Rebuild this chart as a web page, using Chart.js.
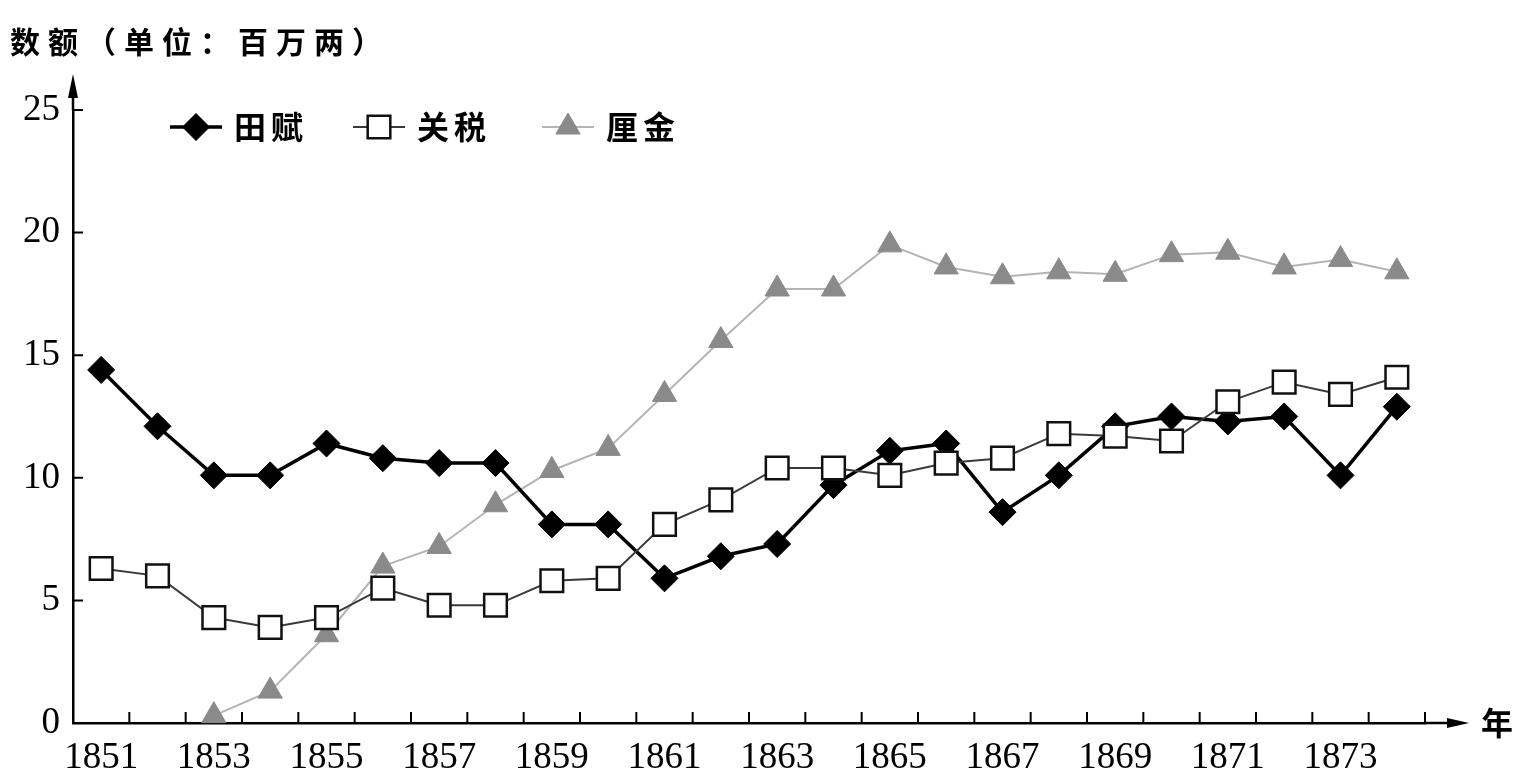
<!DOCTYPE html>
<html>
<head>
<meta charset="utf-8">
<script src="https://cdn.jsdelivr.net/npm/chart.js@4.4.0/dist/chart.umd.min.js"></script>
<style>
  html, body { margin: 0; padding: 0; background: #fff; }
  #wrap { width: 1516px; height: 778px; }
</style>
</head>
<body>
<div id="wrap"><canvas id="canvas" width="1516" height="778"></canvas></div>
<script>
const years = ['1851','1852','1853','1854','1855','1856','1857','1858','1859','1860','1861','1862',
               '1863','1864','1865','1866','1867','1868','1869','1870','1871','1872','1873','1874'];
// 田赋
const tianfu = [14.4, 12.1, 10.1, 10.1, 11.4, 10.8, 10.6, 10.6, 8.1, 8.1, 5.9, 6.8,
                7.3, 9.7, 11.1, 11.4, 8.6, 10.1, 12.1, 12.5, 12.3, 12.5, 10.1, 12.9];
// 关税
const guanshui = [6.3, 6.0, 4.3, 3.9, 4.3, 5.5, 4.8, 4.8, 5.8, 5.9, 8.1, 9.1,
                  10.4, 10.4, 10.1, 10.6, 10.8, 11.8, 11.7, 11.5, 13.1, 13.9, 13.4, 14.1];
// 厘金 (starts in 1853)
const lijin = [null, null, 0.3, 1.3, 3.6, 6.4, 7.2, 8.9, 10.3, 11.2, 13.4, 15.6,
               17.7, 17.7, 19.5, 18.6, 18.2, 18.4, 18.3, 19.1, 19.2, 18.6, 18.9, 18.4];
const yTicks = [0, 5, 10, 15, 20, 25];

const serif = '"Liberation Serif", "Times New Roman", serif';
const cjk = '"Noto Sans CJK SC", sans-serif';

// axis arrows, inward tick marks, title, unit label and legend
const decorations = {
  id: 'decorations',
  afterDraw(chart) {
    const {ctx, chartArea: a, scales: {x, y}} = chart;
    ctx.save();
    ctx.strokeStyle = '#000';
    ctx.fillStyle = '#000';
    ctx.lineWidth = 2.5;

    // y axis up to arrow
    ctx.beginPath();
    ctx.moveTo(a.left, a.top);
    ctx.lineTo(a.left, 92);
    ctx.stroke();
    ctx.beginPath();
    ctx.moveTo(a.left, 74);
    ctx.lineTo(a.left - 5, 98);
    ctx.lineTo(a.left + 5, 98);
    ctx.closePath();
    ctx.fill();

    // x axis out to arrow
    ctx.beginPath();
    ctx.moveTo(a.right, a.bottom);
    ctx.lineTo(1452, a.bottom);
    ctx.stroke();
    ctx.beginPath();
    ctx.moveTo(1469, a.bottom);
    ctx.lineTo(1447, a.bottom - 5);
    ctx.lineTo(1447, a.bottom + 5);
    ctx.closePath();
    ctx.fill();

    // tick marks pointing inward
    ctx.lineWidth = 2;
    ctx.beginPath();
    yTicks.forEach(v => {
      const py = y.getPixelForValue(v);
      ctx.moveTo(a.left, py);
      ctx.lineTo(a.left + 10, py);
    });
    for (let i = 1; i <= years.length; i++) {
      const px = x.getPixelForValue(i - 0.5);
      ctx.moveTo(px, a.bottom);
      ctx.lineTo(px, a.bottom - 11);
    }
    ctx.stroke();

    // texts
    ctx.textBaseline = 'middle';
    ctx.font = 'bold 30px ' + cjk;
    ctx.letterSpacing = '8px';
    ctx.textAlign = 'left';
    ctx.fillText('数额（单位：百万两）', 10, 42);
    ctx.letterSpacing = '0px';
    ctx.font = 'bold 32px ' + cjk;
    ctx.fillText('年', 1481, a.bottom);

    // legend
    const starts = [170, 353, 542];
    const ly = 127;
    chart.data.datasets.forEach((ds, i) => {
      const x0 = starts[i];
      ctx.strokeStyle = ds.borderColor;
      ctx.lineWidth = ds.borderWidth;
      ctx.beginPath();
      ctx.moveTo(x0, ly);
      ctx.lineTo(x0 + 52, ly);
      ctx.stroke();
      ctx.fillStyle = ds.pointBackgroundColor;
      ctx.strokeStyle = ds.pointBorderColor;
      ctx.lineWidth = ds.pointBorderWidth;
      Chart.helpers.drawPoint(ctx, {
        pointStyle: ds.pointStyle, radius: ds.pointRadius,
        borderWidth: ds.pointBorderWidth, rotation: 0
      }, x0 + 26, ly);
      ctx.fillStyle = '#000';
      ctx.font = 'bold 32px ' + cjk;
      ctx.letterSpacing = '5px';
      ctx.fillText(ds.label, x0 + 64, ly);
      ctx.letterSpacing = '0px';
    });
    ctx.restore();
  }
};

new Chart(document.getElementById('canvas'), {
  type: 'line',
  data: {
    labels: years,
    datasets: [
      {
        label: '田赋', data: tianfu, order: 1,
        borderColor: '#000', borderWidth: 3.5, tension: 0,
        pointStyle: 'rectRot', pointRadius: 13.5,
        pointBackgroundColor: '#000', pointBorderColor: '#000', pointBorderWidth: 1
      },
      {
        label: '关税', data: guanshui, order: 0,
        borderColor: '#3a3a3a', borderWidth: 2, tension: 0,
        pointStyle: 'rect', pointRadius: 16,
        pointBackgroundColor: '#fff', pointBorderColor: '#111', pointBorderWidth: 2.5
      },
      {
        label: '厘金', data: lijin, order: 2,
        borderColor: '#b4b4b4', borderWidth: 2, tension: 0,
        pointStyle: 'triangle', pointRadius: 14,
        pointBackgroundColor: '#8a8a8a', pointBorderColor: '#8a8a8a', pointBorderWidth: 1
      }
    ]
  },
  options: {
    responsive: false,
    animation: false,
    devicePixelRatio: 1,
    clip: false,
    layout: { padding: { top: 110, right: 91, left: 0, bottom: 0 } },
    plugins: { legend: { display: false }, tooltip: { enabled: false } },
    scales: {
      x: {
        type: 'category',
        offset: true,
        grid: { display: false, drawTicks: false },
        border: { display: true, color: '#000', width: 2.5 },
        ticks: {
          autoSkip: false, maxRotation: 0, color: '#000', padding: 13,
          font: { family: serif, size: 37 },
          callback: (v, i) => (i % 2 === 0 ? years[i] : '')
        },
        afterFit: s => { s.height = 55; }
      },
      y: {
        min: 0, max: 25,
        grid: { display: false, drawTicks: false },
        border: { display: true, color: '#000', width: 2.5 },
        ticks: {
          stepSize: 5, color: '#000', padding: 13,
          font: { family: serif, size: 37 }
        },
        afterFit: s => { s.width = 73; }
      }
    }
  },
  plugins: [decorations]
});
</script>
</body>
</html>
